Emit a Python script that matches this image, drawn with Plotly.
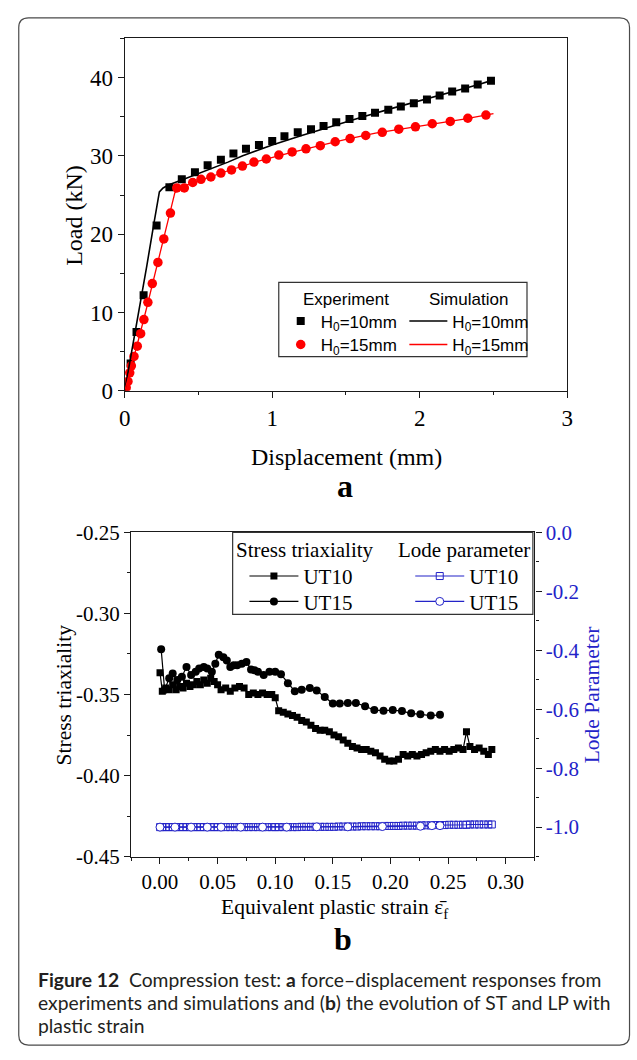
import plotly.graph_objects as go

W, H = 637, 1060

# ---------------- Panel a: force-displacement ----------------
exp10_x = [0.00, 0.04, 0.08, 0.128, 0.216, 0.303, 0.387, 0.476, 0.562, 0.652, 0.737, 0.822, 0.910, 1.000, 1.083,
           1.173, 1.263, 1.348, 1.434, 1.524, 1.611, 1.697, 1.787, 1.872, 1.960, 2.049, 2.135, 2.220, 2.308, 2.393, 2.483]
exp10_y = [0.3, 3.5, 7.5, 12.2, 21.1, 26.0, 27.0, 27.9, 28.8, 29.5, 30.3, 30.9, 31.4, 31.9, 32.5,
           33.0, 33.4, 33.8, 34.3, 34.7, 35.1, 35.5, 35.9, 36.3, 36.7, 37.2, 37.7, 38.2, 38.6, 39.1, 39.6]

exp15_x = [0.010, 0.022, 0.034, 0.045, 0.063, 0.085, 0.108, 0.130, 0.157, 0.187, 0.225, 0.265, 0.310, 0.353, 0.404,
           0.461, 0.517, 0.584, 0.652, 0.724, 0.798, 0.876, 0.960, 1.045, 1.135, 1.229, 1.326, 1.427, 1.528, 1.634,
           1.746, 1.858, 1.971, 2.085, 2.207, 2.326, 2.449]
exp15_y = [0.4, 1.2, 2.3, 3.2, 4.4, 5.7, 7.3, 9.1, 11.3, 13.7, 16.4, 19.4, 22.7, 25.9, 25.9,
           26.6, 27.0, 27.3, 27.8, 28.2, 28.7, 29.2, 29.6, 30.1, 30.5, 30.9, 31.3, 31.8, 32.2, 32.6,
           33.0, 33.4, 33.7, 34.1, 34.4, 34.8, 35.2]

sim10_x = [0, 0.05, 0.10, 0.15, 0.20, 0.235, 0.26, 0.30, 0.40, 0.50, 0.60, 0.70, 0.80, 0.90, 1.00,
           1.20, 1.40, 1.60, 1.80, 2.00, 2.20, 2.40, 2.50]
sim10_y = [0, 5.2, 10.6, 16.0, 21.6, 25.4, 25.9, 26.3, 27.0, 27.7, 28.4, 29.2, 30.0, 30.7, 31.4,
           32.6, 33.8, 34.9, 36.0, 37.0, 38.1, 39.1, 39.7]

sim15_x = [0, 0.05, 0.10, 0.15, 0.20, 0.25, 0.30, 0.34, 0.38, 0.50, 0.70, 0.90, 1.10, 1.30, 1.50,
           1.70, 1.90, 2.10, 2.30, 2.50]
sim15_y = [0, 3.4, 7.0, 10.7, 14.5, 18.3, 22.1, 25.3, 26.0, 26.8, 28.1, 29.3, 30.3, 31.2, 32.1,
           32.9, 33.5, 34.1, 34.7, 35.4]

# ---------------- Panel b: stress triaxiality / Lode parameter ----------------
ut10_x = [0.000, 0.002, 0.005, 0.008, 0.011, 0.014, 0.017, 0.020, 0.023, 0.026,
          0.029, 0.032, 0.035, 0.038, 0.041, 0.044, 0.047, 0.050, 0.053, 0.057,
          0.061, 0.065, 0.069, 0.073, 0.077, 0.081, 0.085, 0.089, 0.093, 0.097,
          0.100, 0.103, 0.107, 0.111, 0.115, 0.119, 0.123, 0.127, 0.131, 0.135,
          0.139, 0.143, 0.147, 0.151, 0.155, 0.159, 0.163, 0.167, 0.171, 0.175,
          0.179, 0.183, 0.187, 0.191, 0.195, 0.199, 0.203, 0.207, 0.211, 0.215,
          0.219, 0.223, 0.227, 0.231, 0.235, 0.239, 0.243, 0.247, 0.251, 0.255,
          0.259, 0.263, 0.266, 0.269, 0.273, 0.277, 0.281, 0.285, 0.288]
ut10_st = [-0.3365, -0.348, -0.346, -0.347, -0.344, -0.347, -0.345, -0.346, -0.343, -0.345,
           -0.344, -0.342, -0.344, -0.341, -0.343, -0.340, -0.342, -0.344, -0.347, -0.346,
           -0.348, -0.346, -0.345, -0.346, -0.350, -0.349, -0.350, -0.349, -0.350, -0.350,
           -0.352, -0.360, -0.361, -0.362, -0.363, -0.364, -0.366, -0.367, -0.369, -0.371,
           -0.372, -0.372, -0.373, -0.375, -0.376, -0.378, -0.380, -0.382, -0.383, -0.384,
           -0.384, -0.385, -0.386, -0.388, -0.390, -0.391, -0.391, -0.390, -0.387, -0.388,
           -0.387, -0.388, -0.387, -0.386, -0.385, -0.384, -0.385, -0.384, -0.385, -0.384,
           -0.383, -0.384, -0.373, -0.382, -0.384, -0.383, -0.385, -0.387, -0.384]
ut10_lp = [-1.000, -1.000, -1.000, -1.000, -1.000, -1.000, -1.000, -1.000, -1.000, -1.000,
           -1.000, -1.000, -1.000, -1.000, -1.000, -1.000, -1.000, -1.000, -1.000, -1.000,
           -1.000, -1.000, -1.000, -1.000, -1.000, -1.000, -1.000, -1.000, -1.000, -1.000,
           -1.000, -1.000, -1.000, -1.000, -1.000, -1.000, -0.999, -0.999, -0.999, -0.999,
           -0.999, -0.999, -0.999, -0.999, -0.998, -0.998, -0.998, -0.998, -0.998, -0.997,
           -0.997, -0.997, -0.997, -0.997, -0.996, -0.996, -0.996, -0.996, -0.995, -0.995,
           -0.995, -0.995, -0.994, -0.994, -0.994, -0.993, -0.993, -0.993, -0.992, -0.992,
           -0.992, -0.992, -0.992, -0.991, -0.991, -0.991, -0.991, -0.991, -0.991]

ut15_x = [0.001, 0.004, 0.008, 0.011, 0.015, 0.019, 0.023, 0.027, 0.031, 0.034,
          0.038, 0.041, 0.045, 0.048, 0.051, 0.055, 0.058, 0.061, 0.064, 0.067,
          0.071, 0.075, 0.079, 0.082, 0.085, 0.090, 0.095, 0.100, 0.105, 0.111,
          0.117, 0.123, 0.130, 0.136, 0.143, 0.150, 0.156, 0.163, 0.170, 0.178,
          0.186, 0.194, 0.202, 0.210, 0.218, 0.226, 0.235, 0.243]
ut15_st = [-0.322, -0.347, -0.340, -0.337, -0.341, -0.339, -0.333, -0.338, -0.336, -0.334,
           -0.333, -0.334, -0.336, -0.331, -0.3255, -0.327, -0.329, -0.333, -0.332, -0.332,
           -0.331, -0.330, -0.3345, -0.335, -0.336, -0.338, -0.336, -0.336, -0.3375, -0.343,
           -0.348, -0.347, -0.346, -0.3476, -0.3516, -0.3556, -0.3556, -0.3552, -0.3552, -0.3572,
           -0.3596, -0.360, -0.3596, -0.3602, -0.3616, -0.3622, -0.3630, -0.3625]

ut15_lp_x = [0.000, 0.013, 0.027, 0.041, 0.053, 0.070, 0.089, 0.110, 0.136, 0.163, 0.193, 0.226, 0.236, 0.243]
ut15_lp = [-1.000, -1.000, -1.000, -1.000, -1.000, -1.000, -1.000, -1.000, -0.999, -0.999, -0.998, -0.997, -0.995, -0.995]

# tick labels
load_ticks = [0, 10, 20, 30, 40]
disp_ticks = [0, 1, 2, 3]
st_ticks = [-0.45, -0.40, -0.35, -0.30, -0.25]
st_ticktext = ["-0.45", "-0.40", "-0.35", "-0.30", "-0.25"]
strain_ticks = [0.00, 0.05, 0.10, 0.15, 0.20, 0.25, 0.30]
strain_ticktext = ["0.00", "0.05", "0.10", "0.15", "0.20", "0.25", "0.30"]
lp_ticks = [-1.0, -0.8, -0.6, -0.4, -0.2, 0.0]
lp_ticktext = ["-1.0", "-0.8", "-0.6", "-0.4", "-0.2", "0.0"]

BLUE = "#2323c8"
RED = "#ff0000"
SERIF = "Liberation Serif"
SANS = "Liberation Sans"


def px(x):
    return x / W


def py(y):
    return 1 - y / H


fig = go.Figure()

# panel a traces (each legend entry in its own one-item legend for exact row placement)
fig.add_trace(go.Scatter(x=exp10_x, y=exp10_y, mode="markers", name="H<sub>0</sub>=10mm",
                         marker=dict(symbol="square", size=8, color="black"),
                         xaxis="x", yaxis="y", legend="legend"))
fig.add_trace(go.Scatter(x=exp15_x, y=exp15_y, mode="markers", name="H<sub>0</sub>=15mm",
                         marker=dict(symbol="circle", size=9.5, color=RED),
                         xaxis="x", yaxis="y", legend="legend2"))
fig.add_trace(go.Scatter(x=sim10_x, y=sim10_y, mode="lines", name="H<sub>0</sub>=10mm",
                         line=dict(color="black", width=1.6),
                         xaxis="x", yaxis="y", legend="legend3"))
fig.add_trace(go.Scatter(x=sim15_x, y=sim15_y, mode="lines", name="H<sub>0</sub>=15mm",
                         line=dict(color=RED, width=1.3),
                         xaxis="x", yaxis="y", legend="legend4"))

# panel b traces
fig.add_trace(go.Scatter(x=ut10_x, y=ut10_lp, mode="lines+markers", name="UT10",
                         line=dict(color=BLUE, width=1.2),
                         marker=dict(symbol="square-open", size=7, color=BLUE, line=dict(width=1)),
                         xaxis="x2", yaxis="y3", legend="legend7"))
fig.add_trace(go.Scatter(x=ut15_lp_x, y=ut15_lp, mode="lines+markers", name="UT15",
                         line=dict(color=BLUE, width=1.2),
                         marker=dict(symbol="circle", size=8, color="white", line=dict(width=1, color=BLUE)),
                         xaxis="x2", yaxis="y3", legend="legend8"))
fig.add_trace(go.Scatter(x=ut10_x, y=ut10_st, mode="lines+markers", name="UT10",
                         line=dict(color="black", width=1.2),
                         marker=dict(symbol="square", size=7, color="black"),
                         xaxis="x2", yaxis="y2", legend="legend5"))
fig.add_trace(go.Scatter(x=ut15_x, y=ut15_st, mode="lines+markers", name="UT15",
                         line=dict(color="black", width=1.2),
                         marker=dict(symbol="circle", size=8, color="black"),
                         xaxis="x2", yaxis="y2", legend="legend6"))

AX = dict(showgrid=False, zeroline=False, showline=True, linecolor="#1a1a1a", linewidth=1.3,
          ticks="outside", ticklen=6, tickwidth=1.2, tickcolor="#1a1a1a")


def leg(x, y, family, size, itemwidth):
    return dict(x=px(x), y=py(y), xanchor="left", yanchor="middle", bgcolor="rgba(0,0,0,0)",
                borderwidth=0, font=dict(family=family, size=size, color="black"), itemwidth=itemwidth)


fig.update_layout(
    width=W, height=H, margin=dict(l=0, r=0, t=0, b=0),
    paper_bgcolor="white", plot_bgcolor="white",
    font=dict(family=SERIF, color="black"),
    showlegend=True,
    xaxis=dict(**AX, domain=[px(121), px(572)], range=[0, 3], anchor="y", mirror=True,
               tickvals=disp_ticks, tickfont=dict(family=SERIF, size=23),
               minor=dict(dtick=0.5, ticks="outside", ticklen=3.5, tickwidth=1.1, tickcolor="#1a1a1a")),
    yaxis=dict(**AX, domain=[py(388), py(27)], range=[0, 45], anchor="x", mirror=True,
               tickvals=load_ticks, tickfont=dict(family=SERIF, size=23),
               minor=dict(dtick=5, ticks="outside", ticklen=3.5, tickwidth=1.1, tickcolor="#1a1a1a")),
    xaxis2=dict(**AX, domain=[px(127.6), px(538.6)], range=[-0.025, 0.325], anchor="y2", mirror=True,
                tickvals=strain_ticks, ticktext=strain_ticktext, tickfont=dict(family=SERIF, size=21),
                minor=dict(dtick=0.025, tick0=0, ticks="outside", ticklen=3.5, tickwidth=1.1, tickcolor="#1a1a1a")),
    yaxis2=dict(**AX, domain=[py(865), py(533)], range=[-0.45, -0.25], anchor="x2",
                tickvals=st_ticks, ticktext=st_ticktext, tickfont=dict(family=SERIF, size=21),
                minor=dict(dtick=0.025, tick0=-0.45, ticks="outside", ticklen=3.5, tickwidth=1.1, tickcolor="#1a1a1a")),
    yaxis3=dict(**AX, overlaying="y2", side="right", anchor="x2", range=[-1.1, 0.0],
                tickvals=lp_ticks, ticktext=lp_ticktext, tickfont=dict(family=SERIF, size=21, color=BLUE),
                minor=dict(dtick=0.1, tick0=0, ticks="outside", ticklen=3.5, tickwidth=1.1, tickcolor="#1a1a1a")),
    legend=leg(280, 317, SANS, 17, 30),
    legend2=leg(280, 341, SANS, 17, 30),
    legend3=leg(406, 317, SANS, 17, 38),
    legend4=leg(406, 341, SANS, 17, 38),
    legend5=leg(243, 578, SERIF, 21, 49),
    legend6=leg(243, 604, SERIF, 21, 49),
    legend7=leg(412, 578, SERIF, 21, 49),
    legend8=leg(412, 604, SERIF, 21, 49),
)

# outer rounded frame and legend frames
x0, x1, yt, yb = px(13), px(635.5), py(6), py(1058)
rx, ry = 10 / W, 10 / H
frame = (f"M{x0+rx},{yt} L{x1-rx},{yt} Q{x1},{yt} {x1},{yt-ry} L{x1},{yb+ry} Q{x1},{yb} {x1-rx},{yb} "
         f"L{x0+rx},{yb} Q{x0},{yb} {x0},{yb+ry} L{x0},{yt-ry} Q{x0},{yt} {x0+rx},{yt} Z")
fig.add_shape(type="path", path=frame, xref="paper", yref="paper", line=dict(color="#4a4a4a", width=1.2))
fig.add_shape(type="rect", xref="paper", yref="paper", x0=px(278), x1=px(531), y0=py(353), y1=py(277),
              line=dict(color="#333333", width=1.2))
fig.add_shape(type="rect", xref="paper", yref="paper", x0=px(231), x1=px(537), y0=py(617), y1=py(533),
              line=dict(color="#333333", width=1.2))


def ann(text, x, y, size, family=SERIF, color="black", angle=0, xanchor="center"):
    fig.add_annotation(text=text, x=px(x), y=py(y), xref="paper", yref="paper", showarrow=False,
                       xanchor=xanchor, yanchor="middle", textangle=angle,
                       font=dict(family=family, size=size, color=color))


# panel a text
ann("Load (kN)", 69, 208, 24, angle=-90)
ann("Displacement (mm)", 347, 456, 24)
ann("<b>a</b>", 345, 485, 32)
ann("Experiment", 347, 294, 17, family=SANS)
ann("Simulation", 471, 294, 17, family=SANS)

# panel b text
ann("Stress triaxiality", 59, 699, 21.5, angle=-90)
ann("Lode Parameter", 597, 699, 21.5, color=BLUE, angle=-90)
ann("Equivalent plastic strain ε\u0304<sub>f</sub>", 335, 918, 21.5)
ann("<b>b</b>", 343, 949, 32)
ann("Stress triaxiality", 305, 551, 21)
ann("Lode parameter", 467, 551, 21)

# caption
CAP = "Lato"
CAPC = "#231f20"
ann("<b>Figure 12</b>\u00a0 Compression test: <b>a</b> force\u2013displacement responses from", 31, 991, 19.3,
    family=CAP, color=CAPC, xanchor="left")
ann("experiments and simulations and (<b>b</b>) the evolution of ST and LP with", 31, 1014, 19.3,
    family=CAP, color=CAPC, xanchor="left")
ann("plastic strain", 31, 1038, 19.3, family=CAP, color=CAPC, xanchor="left")

fig.write_html("out.html", config={"displayModeBar": False},
               post_script="document.body.style.margin='0';document.body.style.overflow='hidden';")
